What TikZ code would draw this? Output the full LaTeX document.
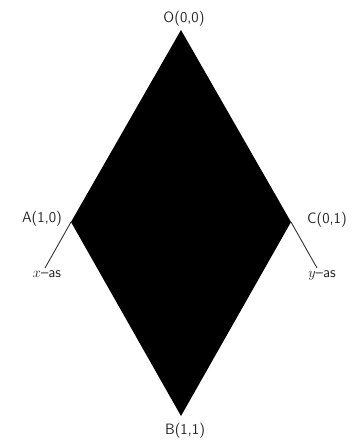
\documentclass[tikz,border=0pt]{standalone}
\usepackage{fontspec}
\begin{document}
\begin{tikzpicture}[x=1pt,y=1pt,
  lab/.style={inner sep=0pt,font=\fontsize{15}{18}\selectfont\sffamily\addfontfeatures{LetterSpace=15},text=black!85},
  axis/.style={draw=black!80,line width=0.9pt}]
\useasboundingbox (0,0) rectangle (361,441);
\coordinate (O) at (181,411);
\coordinate (A) at (71,219);
\coordinate (B) at (181,25);
\coordinate (C) at (291,219);
\coordinate (XE) at (45,173);
\coordinate (YE) at (317,173);
\fill[black] (O) -- (A) -- (B) -- (C) -- cycle;
\draw[axis] (A) -- (XE);
\draw[axis] (C) -- (YE);
\node[lab] (lO) at (184,422.5) {O(0,0)};
\node[lab] (lA) at (42,222.5) {A(1,0)};
\node[lab] (lC) at (327,221.5) {C(0,1)};
\node[lab] (lB) at (185,10.5) {B(1,1)};
\node[lab] (lX) at (47,167) {$x$--as};
\node[lab] (lY) at (322,166) {$y$--as};
\end{tikzpicture}
\end{document}
